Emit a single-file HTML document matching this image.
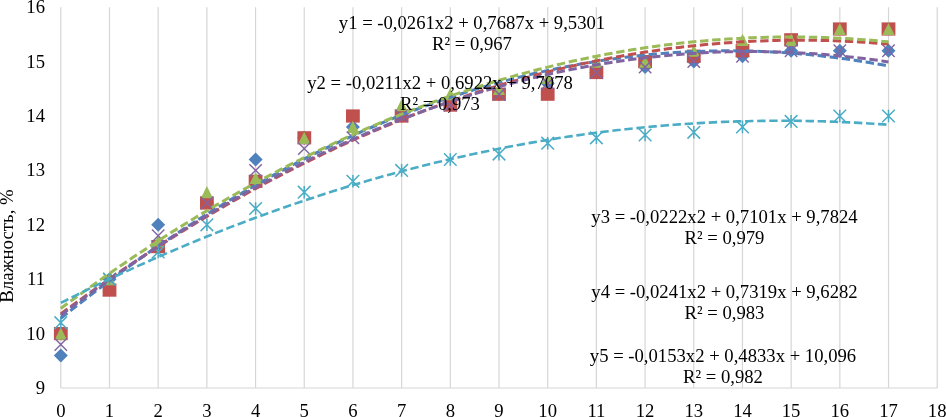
<!DOCTYPE html><html><head><meta charset="utf-8"><style>html,body{margin:0;padding:0;background:#fff;overflow:hidden}body{width:946px;height:417px;position:relative}</style></head><body><svg width="946" height="417" viewBox="0 0 946 417" style="position:absolute;left:0;top:0">
<line x1="60.80" y1="7.2" x2="60.80" y2="388.0" stroke="#d6d6d6" stroke-width="1.2"/>
<line x1="109.49" y1="7.2" x2="109.49" y2="388.0" stroke="#d6d6d6" stroke-width="1.2"/>
<line x1="158.18" y1="7.2" x2="158.18" y2="388.0" stroke="#d6d6d6" stroke-width="1.2"/>
<line x1="206.87" y1="7.2" x2="206.87" y2="388.0" stroke="#d6d6d6" stroke-width="1.2"/>
<line x1="255.56" y1="7.2" x2="255.56" y2="388.0" stroke="#d6d6d6" stroke-width="1.2"/>
<line x1="304.25" y1="7.2" x2="304.25" y2="388.0" stroke="#d6d6d6" stroke-width="1.2"/>
<line x1="352.94" y1="7.2" x2="352.94" y2="388.0" stroke="#d6d6d6" stroke-width="1.2"/>
<line x1="401.63" y1="7.2" x2="401.63" y2="388.0" stroke="#d6d6d6" stroke-width="1.2"/>
<line x1="450.32" y1="7.2" x2="450.32" y2="388.0" stroke="#d6d6d6" stroke-width="1.2"/>
<line x1="499.01" y1="7.2" x2="499.01" y2="388.0" stroke="#d6d6d6" stroke-width="1.2"/>
<line x1="547.70" y1="7.2" x2="547.70" y2="388.0" stroke="#d6d6d6" stroke-width="1.2"/>
<line x1="596.39" y1="7.2" x2="596.39" y2="388.0" stroke="#d6d6d6" stroke-width="1.2"/>
<line x1="645.08" y1="7.2" x2="645.08" y2="388.0" stroke="#d6d6d6" stroke-width="1.2"/>
<line x1="693.77" y1="7.2" x2="693.77" y2="388.0" stroke="#d6d6d6" stroke-width="1.2"/>
<line x1="742.46" y1="7.2" x2="742.46" y2="388.0" stroke="#d6d6d6" stroke-width="1.2"/>
<line x1="791.15" y1="7.2" x2="791.15" y2="388.0" stroke="#d6d6d6" stroke-width="1.2"/>
<line x1="839.84" y1="7.2" x2="839.84" y2="388.0" stroke="#d6d6d6" stroke-width="1.2"/>
<line x1="888.53" y1="7.2" x2="888.53" y2="388.0" stroke="#d6d6d6" stroke-width="1.2"/>
<line x1="937.22" y1="7.2" x2="937.22" y2="388.0" stroke="#d6d6d6" stroke-width="1.2"/>
<line x1="60.80" y1="388.0" x2="937.22" y2="388.0" stroke="#d6d6d6" stroke-width="1.2"/>
<path d="M60.8 348.4L67.8 355.4L60.8 362.4L53.8 355.4Z" fill="#4F81BD"/>
<path d="M109.5 272.2L116.5 279.2L109.5 286.2L102.5 279.2Z" fill="#4F81BD"/>
<path d="M158.2 217.8L165.2 224.8L158.2 231.8L151.2 224.8Z" fill="#4F81BD"/>
<path d="M206.9 196.0L213.9 203.0L206.9 210.0L199.9 203.0Z" fill="#4F81BD"/>
<path d="M255.6 152.5L262.6 159.5L255.6 166.5L248.6 159.5Z" fill="#4F81BD"/>
<path d="M304.2 130.8L311.2 137.8L304.2 144.8L297.2 137.8Z" fill="#4F81BD"/>
<path d="M352.9 119.9L359.9 126.9L352.9 133.9L345.9 126.9Z" fill="#4F81BD"/>
<path d="M401.6 109.0L408.6 116.0L401.6 123.0L394.6 116.0Z" fill="#4F81BD"/>
<path d="M450.3 98.1L457.3 105.1L450.3 112.1L443.3 105.1Z" fill="#4F81BD"/>
<path d="M499.0 87.2L506.0 94.2L499.0 101.2L492.0 94.2Z" fill="#4F81BD"/>
<path d="M547.7 76.4L554.7 83.4L547.7 90.4L540.7 83.4Z" fill="#4F81BD"/>
<path d="M596.4 65.5L603.4 72.5L596.4 79.5L589.4 72.5Z" fill="#4F81BD"/>
<path d="M645.1 60.0L652.1 67.0L645.1 74.0L638.1 67.0Z" fill="#4F81BD"/>
<path d="M693.8 54.6L700.8 61.6L693.8 68.6L686.8 61.6Z" fill="#4F81BD"/>
<path d="M742.5 49.2L749.5 56.2L742.5 63.2L735.5 56.2Z" fill="#4F81BD"/>
<path d="M791.1 43.7L798.1 50.7L791.1 57.7L784.1 50.7Z" fill="#4F81BD"/>
<path d="M839.8 43.7L846.8 50.7L839.8 57.7L832.8 50.7Z" fill="#4F81BD"/>
<path d="M888.5 43.7L895.5 50.7L888.5 57.7L881.5 50.7Z" fill="#4F81BD"/>
<rect x="53.9" y="327.0" width="13.8" height="13.2" fill="#C0504D"/>
<rect x="102.6" y="283.5" width="13.8" height="13.2" fill="#C0504D"/>
<rect x="151.3" y="240.0" width="13.8" height="13.2" fill="#C0504D"/>
<rect x="200.0" y="196.4" width="13.8" height="13.2" fill="#C0504D"/>
<rect x="248.7" y="174.7" width="13.8" height="13.2" fill="#C0504D"/>
<rect x="297.4" y="131.2" width="13.8" height="13.2" fill="#C0504D"/>
<rect x="346.0" y="109.4" width="13.8" height="13.2" fill="#C0504D"/>
<rect x="394.7" y="109.4" width="13.8" height="13.2" fill="#C0504D"/>
<rect x="443.4" y="98.5" width="13.8" height="13.2" fill="#C0504D"/>
<rect x="492.1" y="87.6" width="13.8" height="13.2" fill="#C0504D"/>
<rect x="540.8" y="87.6" width="13.8" height="13.2" fill="#C0504D"/>
<rect x="589.5" y="65.9" width="13.8" height="13.2" fill="#C0504D"/>
<rect x="638.2" y="55.0" width="13.8" height="13.2" fill="#C0504D"/>
<rect x="686.9" y="49.6" width="13.8" height="13.2" fill="#C0504D"/>
<rect x="735.6" y="44.1" width="13.8" height="13.2" fill="#C0504D"/>
<rect x="784.2" y="33.2" width="13.8" height="13.2" fill="#C0504D"/>
<rect x="832.9" y="22.4" width="13.8" height="13.2" fill="#C0504D"/>
<rect x="881.6" y="22.4" width="13.8" height="13.2" fill="#C0504D"/>
<path d="M60.8 327.5L66.9 339.7L54.7 339.7Z" fill="#9BBB59"/>
<path d="M109.5 273.1L115.6 285.3L103.4 285.3Z" fill="#9BBB59"/>
<path d="M158.2 235.0L164.3 247.2L152.1 247.2Z" fill="#9BBB59"/>
<path d="M206.9 186.1L213.0 198.3L200.8 198.3Z" fill="#9BBB59"/>
<path d="M255.6 171.9L261.7 184.1L249.5 184.1Z" fill="#9BBB59"/>
<path d="M304.2 131.7L310.4 143.9L298.1 143.9Z" fill="#9BBB59"/>
<path d="M352.9 120.8L359.0 133.0L346.8 133.0Z" fill="#9BBB59"/>
<path d="M401.6 99.0L407.7 111.2L395.5 111.2Z" fill="#9BBB59"/>
<path d="M450.3 88.1L456.4 100.3L444.2 100.3Z" fill="#9BBB59"/>
<path d="M499.0 82.7L505.1 94.9L492.9 94.9Z" fill="#9BBB59"/>
<path d="M547.7 71.8L553.8 84.0L541.6 84.0Z" fill="#9BBB59"/>
<path d="M596.4 55.5L602.5 67.7L590.3 67.7Z" fill="#9BBB59"/>
<path d="M645.1 55.5L651.2 67.7L639.0 67.7Z" fill="#9BBB59"/>
<path d="M693.8 44.6L699.9 56.8L687.7 56.8Z" fill="#9BBB59"/>
<path d="M742.5 33.7L748.6 45.9L736.4 45.9Z" fill="#9BBB59"/>
<path d="M791.1 33.7L797.2 45.9L785.0 45.9Z" fill="#9BBB59"/>
<path d="M839.8 22.9L845.9 35.1L833.7 35.1Z" fill="#9BBB59"/>
<path d="M888.5 22.9L894.6 35.1L882.4 35.1Z" fill="#9BBB59"/>
<path d="M54.6 338.3L67.0 350.7M67.0 338.3L54.6 350.7" stroke="#8064A2" stroke-width="1.4" fill="none"/>
<path d="M103.3 273.0L115.7 285.4M115.7 273.0L103.3 285.4" stroke="#8064A2" stroke-width="1.4" fill="none"/>
<path d="M152.0 229.5L164.4 241.9M164.4 229.5L152.0 241.9" stroke="#8064A2" stroke-width="1.4" fill="none"/>
<path d="M200.7 196.8L213.1 209.2M213.1 196.8L200.7 209.2" stroke="#8064A2" stroke-width="1.4" fill="none"/>
<path d="M249.4 164.2L261.8 176.6M261.8 164.2L249.4 176.6" stroke="#8064A2" stroke-width="1.4" fill="none"/>
<path d="M298.1 142.4L310.4 154.8M310.4 142.4L298.1 154.8" stroke="#8064A2" stroke-width="1.4" fill="none"/>
<path d="M346.7 131.6L359.1 144.0M359.1 131.6L346.7 144.0" stroke="#8064A2" stroke-width="1.4" fill="none"/>
<path d="M395.4 109.8L407.8 122.2M407.8 109.8L395.4 122.2" stroke="#8064A2" stroke-width="1.4" fill="none"/>
<path d="M444.1 98.9L456.5 111.3M456.5 98.9L444.1 111.3" stroke="#8064A2" stroke-width="1.4" fill="none"/>
<path d="M492.8 88.0L505.2 100.4M505.2 88.0L492.8 100.4" stroke="#8064A2" stroke-width="1.4" fill="none"/>
<path d="M541.5 77.2L553.9 89.6M553.9 77.2L541.5 89.6" stroke="#8064A2" stroke-width="1.4" fill="none"/>
<path d="M590.2 66.3L602.6 78.7M602.6 66.3L590.2 78.7" stroke="#8064A2" stroke-width="1.4" fill="none"/>
<path d="M638.9 60.8L651.3 73.2M651.3 60.8L638.9 73.2" stroke="#8064A2" stroke-width="1.4" fill="none"/>
<path d="M687.6 55.4L700.0 67.8M700.0 55.4L687.6 67.8" stroke="#8064A2" stroke-width="1.4" fill="none"/>
<path d="M736.3 50.0L748.7 62.4M748.7 50.0L736.3 62.4" stroke="#8064A2" stroke-width="1.4" fill="none"/>
<path d="M784.9 44.5L797.3 56.9M797.3 44.5L784.9 56.9" stroke="#8064A2" stroke-width="1.4" fill="none"/>
<path d="M833.6 44.5L846.0 56.9M846.0 44.5L833.6 56.9" stroke="#8064A2" stroke-width="1.4" fill="none"/>
<path d="M882.3 44.5L894.7 56.9M894.7 44.5L882.3 56.9" stroke="#8064A2" stroke-width="1.4" fill="none"/>
<path d="M54.5 316.4L67.1 329.0M67.1 316.4L54.5 329.0M60.8 316.4L60.8 329.0" stroke="#4BACC6" stroke-width="1.5" fill="none"/>
<path d="M103.2 272.9L115.8 285.5M115.8 272.9L103.2 285.5M109.5 272.9L109.5 285.5" stroke="#4BACC6" stroke-width="1.5" fill="none"/>
<path d="M151.9 245.7L164.5 258.3M164.5 245.7L151.9 258.3M158.2 245.7L158.2 258.3" stroke="#4BACC6" stroke-width="1.5" fill="none"/>
<path d="M200.6 218.5L213.2 231.1M213.2 218.5L200.6 231.1M206.9 218.5L206.9 231.1" stroke="#4BACC6" stroke-width="1.5" fill="none"/>
<path d="M249.3 202.2L261.9 214.8M261.9 202.2L249.3 214.8M255.6 202.2L255.6 214.8" stroke="#4BACC6" stroke-width="1.5" fill="none"/>
<path d="M297.9 185.9L310.6 198.5M310.6 185.9L297.9 198.5M304.2 185.9L304.2 198.5" stroke="#4BACC6" stroke-width="1.5" fill="none"/>
<path d="M346.6 175.0L359.2 187.6M359.2 175.0L346.6 187.6M352.9 175.0L352.9 187.6" stroke="#4BACC6" stroke-width="1.5" fill="none"/>
<path d="M395.3 164.1L407.9 176.7M407.9 164.1L395.3 176.7M401.6 164.1L401.6 176.7" stroke="#4BACC6" stroke-width="1.5" fill="none"/>
<path d="M444.0 153.2L456.6 165.8M456.6 153.2L444.0 165.8M450.3 153.2L450.3 165.8" stroke="#4BACC6" stroke-width="1.5" fill="none"/>
<path d="M492.7 147.8L505.3 160.4M505.3 147.8L492.7 160.4M499.0 147.8L499.0 160.4" stroke="#4BACC6" stroke-width="1.5" fill="none"/>
<path d="M541.4 136.9L554.0 149.5M554.0 136.9L541.4 149.5M547.7 136.9L547.7 149.5" stroke="#4BACC6" stroke-width="1.5" fill="none"/>
<path d="M590.1 131.5L602.7 144.1M602.7 131.5L590.1 144.1M596.4 131.5L596.4 144.1" stroke="#4BACC6" stroke-width="1.5" fill="none"/>
<path d="M638.8 128.7L651.4 141.3M651.4 128.7L638.8 141.3M645.1 128.7L645.1 141.3" stroke="#4BACC6" stroke-width="1.5" fill="none"/>
<path d="M687.5 126.0L700.1 138.6M700.1 126.0L687.5 138.6M693.8 126.0L693.8 138.6" stroke="#4BACC6" stroke-width="1.5" fill="none"/>
<path d="M736.2 120.6L748.8 133.2M748.8 120.6L736.2 133.2M742.5 120.6L742.5 133.2" stroke="#4BACC6" stroke-width="1.5" fill="none"/>
<path d="M784.8 115.1L797.4 127.7M797.4 115.1L784.8 127.7M791.1 115.1L791.1 127.7" stroke="#4BACC6" stroke-width="1.5" fill="none"/>
<path d="M833.5 109.7L846.1 122.3M846.1 109.7L833.5 122.3M839.8 109.7L839.8 122.3" stroke="#4BACC6" stroke-width="1.5" fill="none"/>
<path d="M882.2 109.7L894.8 122.3M894.8 109.7L882.2 122.3M888.5 109.7L888.5 122.3" stroke="#4BACC6" stroke-width="1.5" fill="none"/>
<path d="M60.8 318.3L65.7 314.4L70.5 310.6L75.4 306.8L80.3 303.0L85.1 299.2L90.0 295.5L94.9 291.7L99.8 288.1L104.6 284.4L109.5 280.8L114.4 277.2L119.2 273.6L124.1 270.1L129.0 266.5L133.8 263.1L138.7 259.6L143.6 256.2L148.4 252.8L153.3 249.4L158.2 246.1L163.0 242.7L167.9 239.5L172.8 236.2L177.7 233.0L182.5 229.8L187.4 226.6L192.3 223.4L197.1 220.3L202.0 217.2L206.9 214.2L211.7 211.1L216.6 208.1L221.5 205.2L226.3 202.2L231.2 199.3L236.1 196.4L241.0 193.6L245.8 190.7L250.7 187.9L255.6 185.1L260.4 182.4L265.3 179.7L270.2 177.0L275.0 174.3L279.9 171.7L284.8 169.1L289.6 166.5L294.5 164.0L299.4 161.4L304.2 158.9L309.1 156.5L314.0 154.0L318.9 151.6L323.7 149.3L328.6 146.9L333.5 144.6L338.3 142.3L343.2 140.0L348.1 137.8L352.9 135.6L357.8 133.4L362.7 131.2L367.5 129.1L372.4 127.0L377.3 125.0L382.2 122.9L387.0 120.9L391.9 118.9L396.8 117.0L401.6 115.1L406.5 113.2L411.4 111.3L416.2 109.5L421.1 107.6L426.0 105.9L430.8 104.1L435.7 102.4L440.6 100.7L445.5 99.0L450.3 97.4L455.2 95.8L460.1 94.2L464.9 92.6L469.8 91.1L474.7 89.6L479.5 88.1L484.4 86.7L489.3 85.3L494.1 83.9L499.0 82.5L503.9 81.2L508.7 79.9L513.6 78.6L518.5 77.4L523.4 76.2L528.2 75.0L533.1 73.8L538.0 72.7L542.8 71.6L547.7 70.5L552.6 69.5L557.4 68.5L562.3 67.5L567.2 66.5L572.0 65.6L576.9 64.7L581.8 63.8L586.7 63.0L591.5 62.2L596.4 61.4L601.3 60.6L606.1 59.9L611.0 59.2L615.9 58.5L620.7 57.9L625.6 57.2L630.5 56.7L635.3 56.1L640.2 55.6L645.1 55.1L649.9 54.6L654.8 54.1L659.7 53.7L664.6 53.3L669.4 53.0L674.3 52.6L679.2 52.3L684.0 52.0L688.9 51.8L693.8 51.6L698.6 51.4L703.5 51.2L708.4 51.1L713.2 51.0L718.1 50.9L723.0 50.8L727.9 50.8L732.7 50.8L737.6 50.9L742.5 50.9L747.3 51.0L752.2 51.1L757.1 51.3L761.9 51.5L766.8 51.7L771.7 51.9L776.5 52.2L781.4 52.5L786.3 52.8L791.1 53.1L796.0 53.5L800.9 53.9L805.8 54.3L810.6 54.8L815.5 55.3L820.4 55.8L825.2 56.4L830.1 56.9L835.0 57.5L839.8 58.2L844.7 58.8L849.6 59.5L854.4 60.2L859.3 61.0L864.2 61.8L869.1 62.6L873.9 63.4L878.8 64.2L883.7 65.1L888.5 66.0" stroke="#4F81BD" stroke-width="3.0" stroke-dasharray="8.4 3.7" fill="none"/>
<path d="M60.8 313.9L65.7 310.3L70.5 306.8L75.4 303.2L80.3 299.7L85.1 296.2L90.0 292.7L94.9 289.2L99.8 285.8L104.6 282.4L109.5 279.0L114.4 275.7L119.2 272.3L124.1 269.0L129.0 265.7L133.8 262.5L138.7 259.2L143.6 256.0L148.4 252.8L153.3 249.7L158.2 246.5L163.0 243.4L167.9 240.3L172.8 237.2L177.7 234.2L182.5 231.1L187.4 228.1L192.3 225.2L197.1 222.2L202.0 219.3L206.9 216.4L211.7 213.5L216.6 210.6L221.5 207.8L226.3 205.0L231.2 202.2L236.1 199.4L241.0 196.7L245.8 194.0L250.7 191.3L255.6 188.6L260.4 186.0L265.3 183.3L270.2 180.7L275.0 178.2L279.9 175.6L284.8 173.1L289.6 170.6L294.5 168.1L299.4 165.7L304.2 163.2L309.1 160.8L314.0 158.4L318.9 156.1L323.7 153.7L328.6 151.4L333.5 149.1L338.3 146.9L343.2 144.6L348.1 142.4L352.9 140.2L357.8 138.0L362.7 135.9L367.5 133.8L372.4 131.7L377.3 129.6L382.2 127.6L387.0 125.5L391.9 123.5L396.8 121.5L401.6 119.6L406.5 117.7L411.4 115.7L416.2 113.9L421.1 112.0L426.0 110.2L430.8 108.4L435.7 106.6L440.6 104.8L445.5 103.1L450.3 101.3L455.2 99.6L460.1 98.0L464.9 96.3L469.8 94.7L474.7 93.1L479.5 91.5L484.4 90.0L489.3 88.4L494.1 86.9L499.0 85.5L503.9 84.0L508.7 82.6L513.6 81.2L518.5 79.8L523.4 78.4L528.2 77.1L533.1 75.8L538.0 74.5L542.8 73.2L547.7 72.0L552.6 70.8L557.4 69.6L562.3 68.4L567.2 67.2L572.0 66.1L576.9 65.0L581.8 63.9L586.7 62.9L591.5 61.9L596.4 60.9L601.3 59.9L606.1 58.9L611.0 58.0L615.9 57.1L620.7 56.2L625.6 55.3L630.5 54.5L635.3 53.7L640.2 52.9L645.1 52.1L649.9 51.4L654.8 50.7L659.7 50.0L664.6 49.3L669.4 48.6L674.3 48.0L679.2 47.4L684.0 46.8L688.9 46.3L693.8 45.8L698.6 45.3L703.5 44.8L708.4 44.3L713.2 43.9L718.1 43.5L723.0 43.1L727.9 42.7L732.7 42.4L737.6 42.1L742.5 41.8L747.3 41.5L752.2 41.3L757.1 41.1L761.9 40.9L766.8 40.7L771.7 40.5L776.5 40.4L781.4 40.3L786.3 40.2L791.1 40.2L796.0 40.2L800.9 40.1L805.8 40.2L810.6 40.2L815.5 40.3L820.4 40.4L825.2 40.5L830.1 40.6L835.0 40.8L839.8 41.0L844.7 41.2L849.6 41.4L854.4 41.7L859.3 41.9L864.2 42.2L869.1 42.6L873.9 42.9L878.8 43.3L883.7 43.7L888.5 44.1" stroke="#C0504D" stroke-width="3.0" stroke-dasharray="8.4 3.7" fill="none"/>
<path d="M60.8 308.5L65.7 304.8L70.5 301.3L75.4 297.7L80.3 294.2L85.1 290.6L90.0 287.2L94.9 283.7L99.8 280.3L104.6 276.8L109.5 273.4L114.4 270.1L119.2 266.7L124.1 263.4L129.0 260.1L133.8 256.8L138.7 253.6L143.6 250.4L148.4 247.2L153.3 244.0L158.2 240.9L163.0 237.7L167.9 234.6L172.8 231.5L177.7 228.5L182.5 225.5L187.4 222.5L192.3 219.5L197.1 216.5L202.0 213.6L206.9 210.7L211.7 207.8L216.6 204.9L221.5 202.1L226.3 199.3L231.2 196.5L236.1 193.7L241.0 191.0L245.8 188.3L250.7 185.6L255.6 182.9L260.4 180.3L265.3 177.7L270.2 175.1L275.0 172.5L279.9 169.9L284.8 167.4L289.6 164.9L294.5 162.4L299.4 160.0L304.2 157.6L309.1 155.2L314.0 152.8L318.9 150.4L323.7 148.1L328.6 145.8L333.5 143.5L338.3 141.3L343.2 139.0L348.1 136.8L352.9 134.6L357.8 132.5L362.7 130.3L367.5 128.2L372.4 126.1L377.3 124.1L382.2 122.0L387.0 120.0L391.9 118.0L396.8 116.1L401.6 114.1L406.5 112.2L411.4 110.3L416.2 108.4L421.1 106.6L426.0 104.8L430.8 103.0L435.7 101.2L440.6 99.5L445.5 97.7L450.3 96.0L455.2 94.4L460.1 92.7L464.9 91.1L469.8 89.5L474.7 87.9L479.5 86.3L484.4 84.8L489.3 83.3L494.1 81.8L499.0 80.3L503.9 78.9L508.7 77.5L513.6 76.1L518.5 74.7L523.4 73.4L528.2 72.1L533.1 70.8L538.0 69.5L542.8 68.3L547.7 67.1L552.6 65.9L557.4 64.7L562.3 63.6L567.2 62.4L572.0 61.3L576.9 60.3L581.8 59.2L586.7 58.2L591.5 57.2L596.4 56.2L601.3 55.3L606.1 54.3L611.0 53.4L615.9 52.6L620.7 51.7L625.6 50.9L630.5 50.1L635.3 49.3L640.2 48.5L645.1 47.8L649.9 47.1L654.8 46.4L659.7 45.7L664.6 45.1L669.4 44.5L674.3 43.9L679.2 43.3L684.0 42.8L688.9 42.3L693.8 41.8L698.6 41.3L703.5 40.9L708.4 40.4L713.2 40.0L718.1 39.7L723.0 39.3L727.9 39.0L732.7 38.7L737.6 38.4L742.5 38.2L747.3 37.9L752.2 37.7L757.1 37.5L761.9 37.4L766.8 37.3L771.7 37.2L776.5 37.1L781.4 37.0L786.3 37.0L791.1 37.0L796.0 37.0L800.9 37.0L805.8 37.1L810.6 37.2L815.5 37.3L820.4 37.4L825.2 37.6L830.1 37.8L835.0 38.0L839.8 38.2L844.7 38.4L849.6 38.7L854.4 39.0L859.3 39.4L864.2 39.7L869.1 40.1L873.9 40.5L878.8 40.9L883.7 41.4L888.5 41.8" stroke="#9BBB59" stroke-width="3.0" stroke-dasharray="8.4 3.7" fill="none"/>
<path d="M60.8 315.3L65.7 311.6L70.5 307.9L75.4 304.3L80.3 300.7L85.1 297.1L90.0 293.5L94.9 289.9L99.8 286.4L104.6 282.9L109.5 279.4L114.4 276.0L119.2 272.6L124.1 269.2L129.0 265.8L133.8 262.5L138.7 259.2L143.6 255.9L148.4 252.6L153.3 249.4L158.2 246.2L163.0 243.0L167.9 239.8L172.8 236.7L177.7 233.6L182.5 230.5L187.4 227.5L192.3 224.5L197.1 221.5L202.0 218.5L206.9 215.5L211.7 212.6L216.6 209.7L221.5 206.9L226.3 204.0L231.2 201.2L236.1 198.4L241.0 195.7L245.8 192.9L250.7 190.2L255.6 187.5L260.4 184.9L265.3 182.2L270.2 179.6L275.0 177.1L279.9 174.5L284.8 172.0L289.6 169.5L294.5 167.0L299.4 164.6L304.2 162.1L309.1 159.7L314.0 157.4L318.9 155.0L323.7 152.7L328.6 150.4L333.5 148.2L338.3 145.9L343.2 143.7L348.1 141.5L352.9 139.4L357.8 137.2L362.7 135.1L367.5 133.0L372.4 131.0L377.3 129.0L382.2 127.0L387.0 125.0L391.9 123.0L396.8 121.1L401.6 119.2L406.5 117.3L411.4 115.5L416.2 113.7L421.1 111.9L426.0 110.1L430.8 108.4L435.7 106.7L440.6 105.0L445.5 103.3L450.3 101.7L455.2 100.1L460.1 98.5L464.9 96.9L469.8 95.4L474.7 93.9L479.5 92.4L484.4 91.0L489.3 89.5L494.1 88.1L499.0 86.8L503.9 85.4L508.7 84.1L513.6 82.8L518.5 81.5L523.4 80.3L528.2 79.1L533.1 77.9L538.0 76.7L542.8 75.6L547.7 74.5L552.6 73.4L557.4 72.4L562.3 71.3L567.2 70.3L572.0 69.3L576.9 68.4L581.8 67.5L586.7 66.6L591.5 65.7L596.4 64.8L601.3 64.0L606.1 63.2L611.0 62.4L615.9 61.7L620.7 61.0L625.6 60.3L630.5 59.6L635.3 59.0L640.2 58.4L645.1 57.8L649.9 57.2L654.8 56.7L659.7 56.2L664.6 55.7L669.4 55.3L674.3 54.8L679.2 54.4L684.0 54.0L688.9 53.7L693.8 53.4L698.6 53.1L703.5 52.8L708.4 52.6L713.2 52.3L718.1 52.1L723.0 52.0L727.9 51.8L732.7 51.7L737.6 51.6L742.5 51.6L747.3 51.5L752.2 51.5L757.1 51.6L761.9 51.6L766.8 51.7L771.7 51.8L776.5 51.9L781.4 52.0L786.3 52.2L791.1 52.4L796.0 52.6L800.9 52.9L805.8 53.2L810.6 53.5L815.5 53.8L820.4 54.2L825.2 54.5L830.1 55.0L835.0 55.4L839.8 55.9L844.7 56.3L849.6 56.9L854.4 57.4L859.3 58.0L864.2 58.6L869.1 59.2L873.9 59.8L878.8 60.5L883.7 61.2L888.5 61.9" stroke="#8064A2" stroke-width="3.0" stroke-dasharray="8.4 3.7" fill="none"/>
<path d="M60.8 302.9L65.7 300.5L70.5 298.0L75.4 295.6L80.3 293.2L85.1 290.8L90.0 288.4L94.9 286.1L99.8 283.7L104.6 281.4L109.5 279.1L114.4 276.8L119.2 274.6L124.1 272.3L129.0 270.1L133.8 267.9L138.7 265.6L143.6 263.5L148.4 261.3L153.3 259.1L158.2 257.0L163.0 254.9L167.9 252.8L172.8 250.7L177.7 248.6L182.5 246.6L187.4 244.5L192.3 242.5L197.1 240.5L202.0 238.5L206.9 236.5L211.7 234.6L216.6 232.6L221.5 230.7L226.3 228.8L231.2 226.9L236.1 225.0L241.0 223.2L245.8 221.4L250.7 219.5L255.6 217.7L260.4 215.9L265.3 214.2L270.2 212.4L275.0 210.7L279.9 209.0L284.8 207.2L289.6 205.6L294.5 203.9L299.4 202.2L304.2 200.6L309.1 199.0L314.0 197.4L318.9 195.8L323.7 194.2L328.6 192.6L333.5 191.1L338.3 189.6L343.2 188.1L348.1 186.6L352.9 185.1L357.8 183.7L362.7 182.2L367.5 180.8L372.4 179.4L377.3 178.0L382.2 176.6L387.0 175.3L391.9 173.9L396.8 172.6L401.6 171.3L406.5 170.0L411.4 168.8L416.2 167.5L421.1 166.3L426.0 165.0L430.8 163.8L435.7 162.6L440.6 161.5L445.5 160.3L450.3 159.2L455.2 158.0L460.1 156.9L464.9 155.9L469.8 154.8L474.7 153.7L479.5 152.7L484.4 151.7L489.3 150.7L494.1 149.7L499.0 148.7L503.9 147.7L508.7 146.8L513.6 145.9L518.5 145.0L523.4 144.1L528.2 143.2L533.1 142.4L538.0 141.5L542.8 140.7L547.7 139.9L552.6 139.1L557.4 138.3L562.3 137.6L567.2 136.8L572.0 136.1L576.9 135.4L581.8 134.7L586.7 134.0L591.5 133.4L596.4 132.7L601.3 132.1L606.1 131.5L611.0 130.9L615.9 130.3L620.7 129.8L625.6 129.2L630.5 128.7L635.3 128.2L640.2 127.7L645.1 127.2L649.9 126.8L654.8 126.4L659.7 125.9L664.6 125.5L669.4 125.1L674.3 124.8L679.2 124.4L684.0 124.1L688.9 123.7L693.8 123.4L698.6 123.1L703.5 122.9L708.4 122.6L713.2 122.4L718.1 122.1L723.0 121.9L727.9 121.7L732.7 121.6L737.6 121.4L742.5 121.3L747.3 121.2L752.2 121.0L757.1 121.0L761.9 120.9L766.8 120.8L771.7 120.8L776.5 120.8L781.4 120.8L786.3 120.8L791.1 120.8L796.0 120.8L800.9 120.9L805.8 121.0L810.6 121.1L815.5 121.2L820.4 121.3L825.2 121.4L830.1 121.6L835.0 121.8L839.8 122.0L844.7 122.2L849.6 122.4L854.4 122.6L859.3 122.9L864.2 123.2L869.1 123.5L873.9 123.8L878.8 124.1L883.7 124.4L888.5 124.8" stroke="#4BACC6" stroke-width="2.6" stroke-dasharray="8.4 3.7" fill="none"/>
<g font-family="Liberation Serif, serif" font-size="18.67" fill="#000">
<text x="45" y="394.0" text-anchor="end">9</text>
<text x="45" y="339.6" text-anchor="end">10</text>
<text x="45" y="285.2" text-anchor="end">11</text>
<text x="45" y="230.8" text-anchor="end">12</text>
<text x="45" y="176.4" text-anchor="end">13</text>
<text x="45" y="122.0" text-anchor="end">14</text>
<text x="45" y="67.6" text-anchor="end">15</text>
<text x="45" y="13.2" text-anchor="end">16</text>
<text x="60.8" y="416.8" text-anchor="middle">0</text>
<text x="109.5" y="416.8" text-anchor="middle">1</text>
<text x="158.2" y="416.8" text-anchor="middle">2</text>
<text x="206.9" y="416.8" text-anchor="middle">3</text>
<text x="255.6" y="416.8" text-anchor="middle">4</text>
<text x="304.2" y="416.8" text-anchor="middle">5</text>
<text x="352.9" y="416.8" text-anchor="middle">6</text>
<text x="401.6" y="416.8" text-anchor="middle">7</text>
<text x="450.3" y="416.8" text-anchor="middle">8</text>
<text x="499.0" y="416.8" text-anchor="middle">9</text>
<text x="547.7" y="416.8" text-anchor="middle">10</text>
<text x="596.4" y="416.8" text-anchor="middle">11</text>
<text x="645.1" y="416.8" text-anchor="middle">12</text>
<text x="693.8" y="416.8" text-anchor="middle">13</text>
<text x="742.5" y="416.8" text-anchor="middle">14</text>
<text x="791.1" y="416.8" text-anchor="middle">15</text>
<text x="839.8" y="416.8" text-anchor="middle">16</text>
<text x="888.5" y="416.8" text-anchor="middle">17</text>
<text x="937.2" y="416.8" text-anchor="middle">18</text>
<text x="472" y="29" text-anchor="middle">y1 = -0,0261x2 + 0,7687x + 9,5301</text>
<text x="472" y="50" text-anchor="middle">R² = 0,967</text>
<text x="440" y="88.7" text-anchor="middle">y2 = -0,0211x2 + 0,6922x + 9,7078</text>
<text x="440" y="110.3" text-anchor="middle">R² = 0,973</text>
<text x="724.5" y="223" text-anchor="middle">y3 = -0,0222x2 + 0,7101x + 9,7824</text>
<text x="724.5" y="244" text-anchor="middle">R² = 0,979</text>
<text x="724.5" y="298.2" text-anchor="middle">y4 = -0,0241x2 + 0,7319x + 9,6282</text>
<text x="724.5" y="319.2" text-anchor="middle">R² = 0,983</text>
<text x="723" y="361.6" text-anchor="middle">y5 = -0,0153x2 + 0,4833x + 10,096</text>
<text x="723" y="382.7" text-anchor="middle">R² = 0,982</text>
<text transform="translate(12.7 246) rotate(-90)" text-anchor="middle" font-size="18.85">Влажность, %</text>
</g></svg></body></html>
